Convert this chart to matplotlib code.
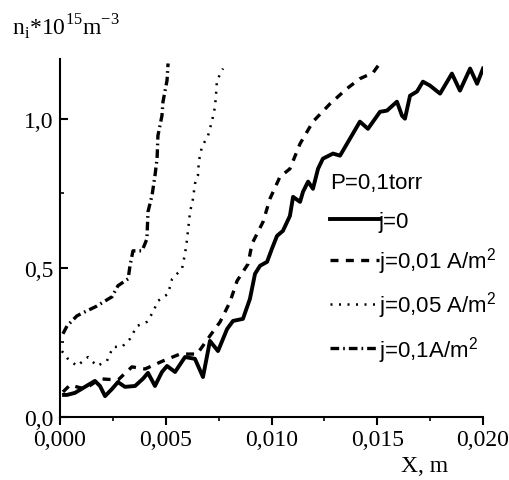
import matplotlib
matplotlib.use("Agg")
import matplotlib.pyplot as plt
from matplotlib.ticker import MultipleLocator, FuncFormatter

# ---- data ----
x_j0 = [0.00019, 0.00033, 0.00071, 0.00118, 0.00165, 0.00189, 0.00213, 0.00246, 0.00274,
        0.00307, 0.00355, 0.00392, 0.00416, 0.00449, 0.00482, 0.00506, 0.00544, 0.00591,
        0.00638, 0.00676, 0.00709, 0.00747, 0.0079, 0.00818, 0.00865, 0.00898, 0.00922,
        0.00946, 0.00979, 0.01002, 0.01026, 0.01054, 0.01087, 0.01102, 0.01135, 0.01149,
        0.01173, 0.01196, 0.0122, 0.01243, 0.01291, 0.01324, 0.01371, 0.01418, 0.01456,
        0.01513, 0.01546, 0.01593, 0.01617, 0.01631, 0.01655, 0.01688, 0.01716, 0.01749,
        0.01797, 0.01853, 0.01891, 0.01939, 0.01972, 0.0200]
y_j0 = [0.074, 0.074, 0.081, 0.101, 0.121, 0.104, 0.070, 0.094, 0.117,
        0.101, 0.104, 0.128, 0.148, 0.104, 0.151, 0.171, 0.151, 0.201,
        0.195, 0.134, 0.255, 0.221, 0.295, 0.322, 0.329, 0.396, 0.480,
        0.507, 0.520, 0.564, 0.607, 0.624, 0.674, 0.738, 0.721, 0.755,
        0.789, 0.765, 0.832, 0.866, 0.883, 0.876, 0.933, 0.990, 0.966,
        1.023, 1.027, 1.057, 1.010, 1.000, 1.077, 1.091, 1.124, 1.111,
        1.084, 1.151, 1.094, 1.168, 1.117, 1.168]

x_j001 = [0.00014, 0.00047, 0.00118, 0.00189, 0.00274, 0.0034, 0.00402, 0.00487, 0.00567,
          0.00648, 0.00709, 0.00757, 0.00804, 0.00837, 0.00889, 0.00908, 0.0096, 0.00993,
          0.0104, 0.01087, 0.01135, 0.01196, 0.01277, 0.01357, 0.01418, 0.0148, 0.01522]
y_j001 = [0.084, 0.107, 0.094, 0.128, 0.124, 0.168, 0.161, 0.188, 0.211,
          0.211, 0.272, 0.319, 0.386, 0.456, 0.513, 0.581, 0.654, 0.732,
          0.805, 0.832, 0.916, 0.990, 1.050, 1.101, 1.134, 1.154, 1.195]

x_j005 = [0.00009, 0.00033, 0.0008, 0.00132, 0.00175, 0.00222, 0.00251, 0.00293, 0.00331,
          0.00364, 0.00411, 0.0044, 0.00463, 0.00511, 0.0053, 0.00577, 0.00591, 0.006,
          0.00615, 0.00629, 0.00638, 0.00652, 0.00657, 0.00671, 0.007, 0.00719, 0.00733,
          0.00738, 0.00742, 0.00771]
y_j005 = [0.221, 0.198, 0.171, 0.201, 0.171, 0.188, 0.235, 0.235, 0.262,
          0.305, 0.319, 0.352, 0.389, 0.413, 0.463, 0.497, 0.547, 0.591,
          0.688, 0.732, 0.782, 0.809, 0.859, 0.906, 0.943, 0.993, 1.040,
          1.084, 1.128, 1.168]

x_j01 = [0.00014, 0.00033, 0.0008, 0.00128, 0.00175, 0.00213, 0.00246, 0.00274, 0.00322,
         0.00331, 0.00345, 0.00388, 0.00411, 0.00416, 0.00435, 0.00449, 0.00459, 0.00463,
         0.00482, 0.00487, 0.00506, 0.00511]
y_j01 = [0.279, 0.305, 0.339, 0.356, 0.372, 0.389, 0.403, 0.440, 0.463,
         0.507, 0.557, 0.557, 0.597, 0.688, 0.742, 0.809, 0.866, 0.943,
         1.010, 1.057, 1.128, 1.185]

labels = ["j=0", r"j=0,01 A/m$^\mathregular{2}$", r"j=0,05 A/m$^\mathregular{2}$",
          r"j=0,1A/m$^\mathregular{2}$"]
legend_title = "P=0,1torr"
x_ticks = [0.0, 0.005, 0.010, 0.015, 0.020]
y_ticks = [0.0, 0.5, 1.0]

# ---- figure ----
W, H = 509, 481
fig = plt.figure(figsize=(W / 100, H / 100), dpi=100)
ax = fig.add_axes([60 / W, 1 - 418 / H, (483 - 60) / W, (418 - 60) / H])

ax.plot(x_j0, y_j0, color="black", lw=2.8, ls="-", label=labels[0],
        solid_joinstyle="round")
ax.plot(x_j001, y_j001, color="black", lw=2.4, ls=(0, (2.4, 2.2)), label=labels[1])
ax.plot(x_j005, y_j005, color="black", lw=1.8, ls=(0, (0.8, 2.6)), label=labels[2])
ax.plot(x_j01, y_j01, color="black", lw=2.4, ls=(0, (2.6, 1.2, 0.5, 1.2)), label=labels[3])

ax.set_xlim(0, 0.020)
ax.set_ylim(0, 1.2)
for s in ("top", "right"):
    ax.spines[s].set_visible(False)
for s in ("left", "bottom"):
    ax.spines[s].set_linewidth(1.5)

ax.set_xticks(x_ticks)
ax.set_yticks(y_ticks)
ax.xaxis.set_minor_locator(MultipleLocator(0.0025))
ax.yaxis.set_minor_locator(MultipleLocator(0.25))
ax.xaxis.set_major_formatter(FuncFormatter(lambda v, p: f"{v:.3f}".replace(".", ",")))
ax.yaxis.set_major_formatter(FuncFormatter(lambda v, p: f"{v:.1f}".replace(".", ",")))
ax.tick_params(axis="x", which="major", direction="out", length=6, width=1.5, pad=2.5)
ax.tick_params(axis="x", which="minor", direction="out", length=3, width=1.2)
ax.tick_params(axis="y", which="major", direction="in", length=6, width=1.5, pad=5)
ax.tick_params(axis="y", which="minor", direction="in", length=3, width=1.2)
for lab in ax.get_xticklabels() + ax.get_yticklabels():
    lab.set_fontfamily("Liberation Serif")
    lab.set_fontsize(17)

fig.text(12 / W, 1 - 35 / H, r"n$_\mathregular{i}$*10$^\mathregular{15}$m$^\mathregular{-3}$",
         family="Liberation Serif", fontsize=17, ha="left", va="baseline")
fig.text(425 / W, 1 - 467 / H, "X, m", family="Liberation Serif", fontsize=17,
         ha="center", va="center")

fig.text(330 / W, 1 - 184 / H, legend_title, family="Liberation Sans", fontsize=16,
         ha="left", va="center")
leg = ax.legend(loc="upper left", bbox_to_anchor=(330 / W, 1 - 212 / H),
                bbox_transform=fig.transFigure, frameon=False,
                prop={"family": "Liberation Sans", "size": 16},
                handlelength=2.2, handletextpad=0.0, labelspacing=0.6,
                borderpad=0, borderaxespad=0)

fig.savefig("out.png", dpi=100)
